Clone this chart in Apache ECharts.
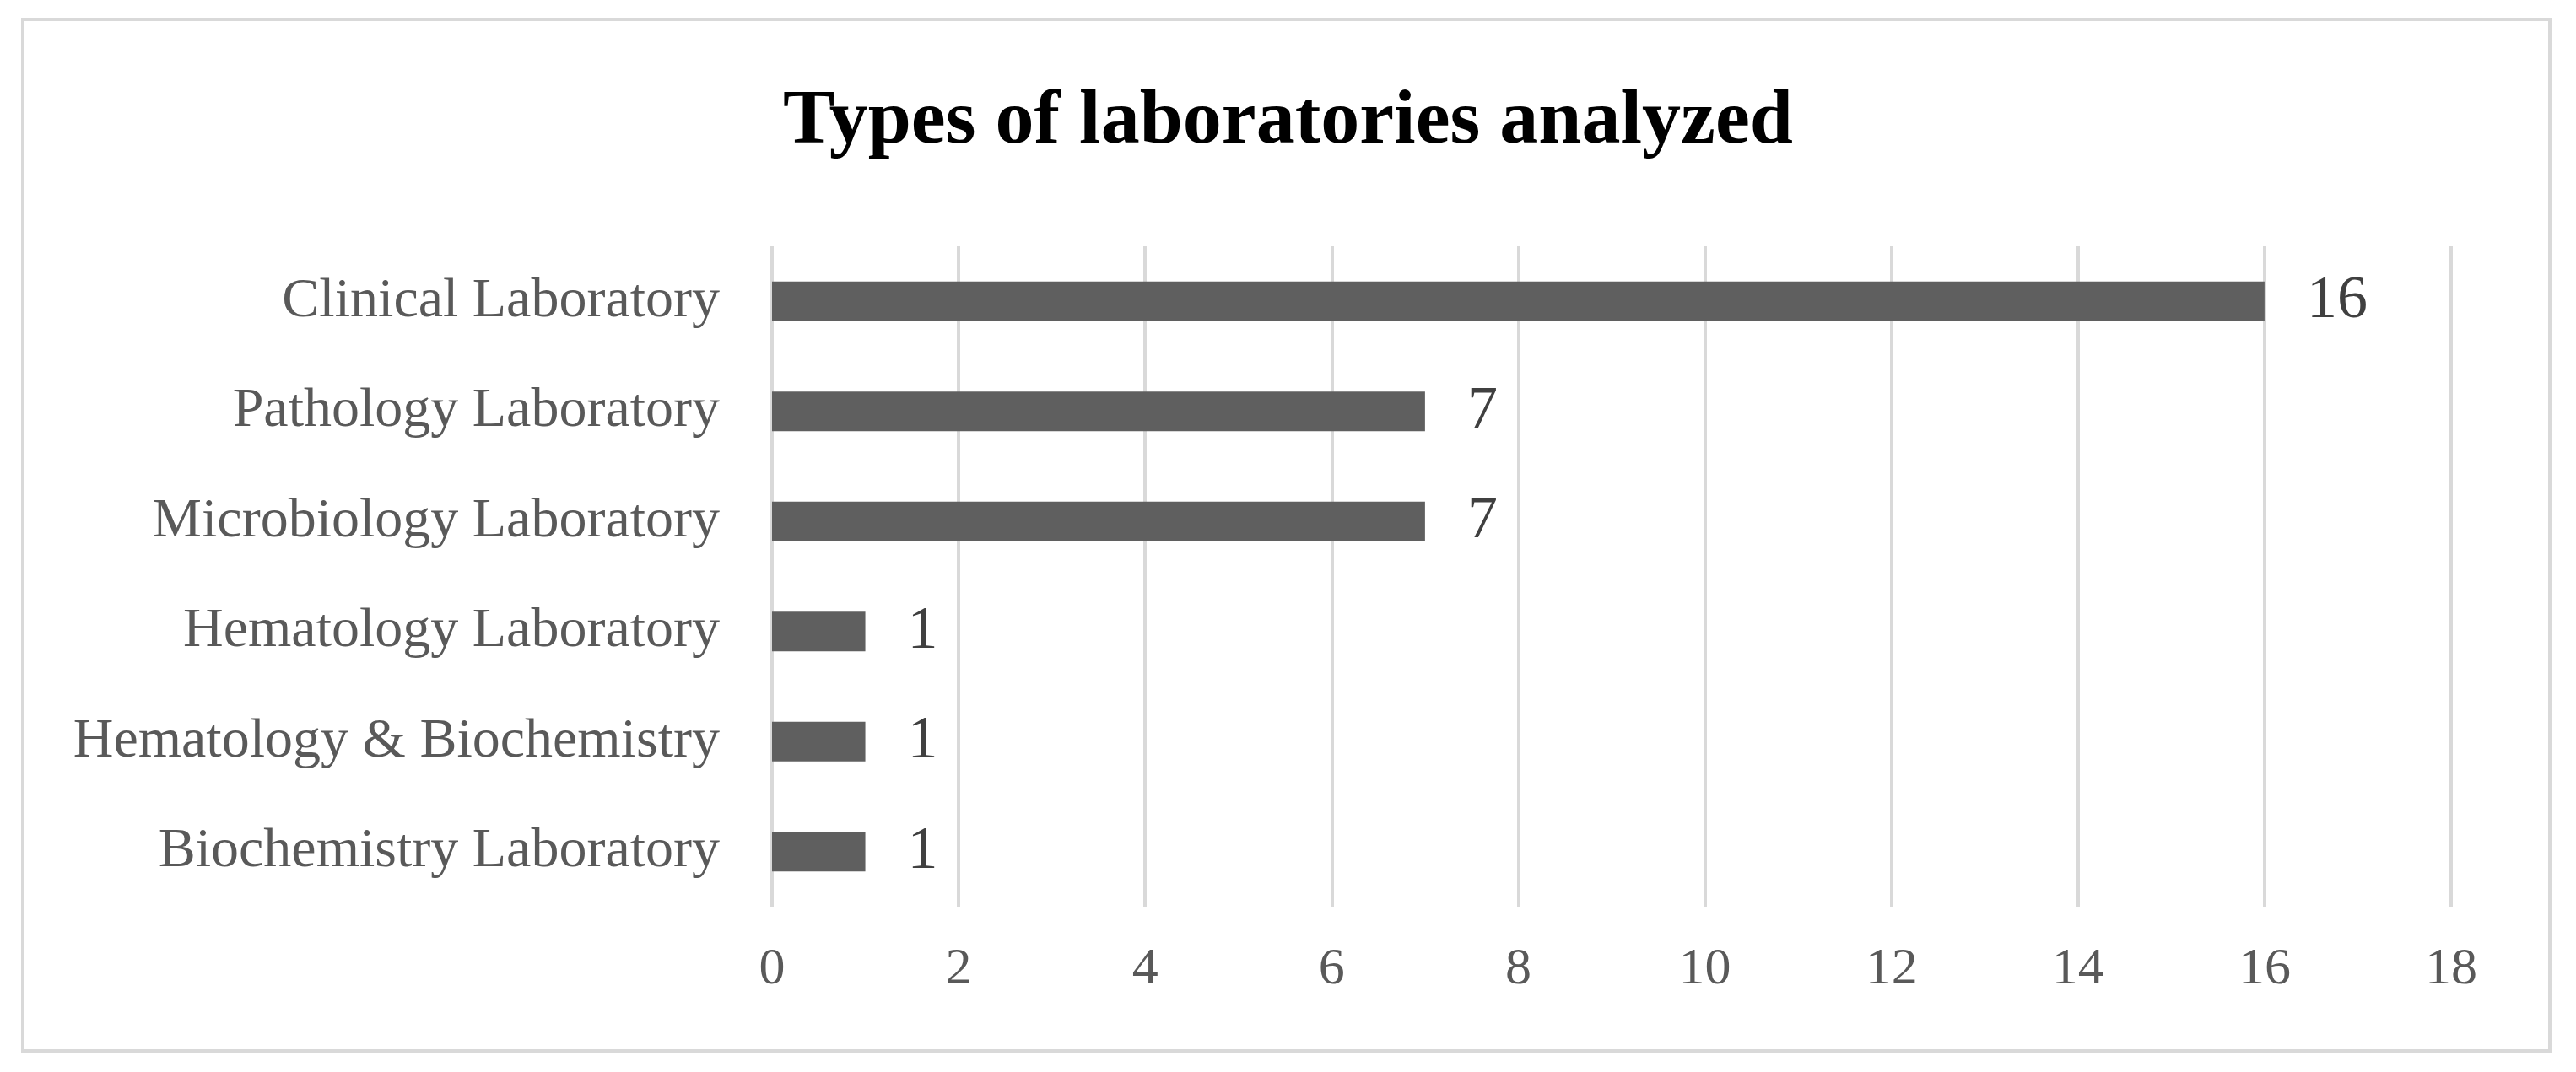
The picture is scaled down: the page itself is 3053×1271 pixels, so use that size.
<!DOCTYPE html><html><head><meta charset="utf-8"><style>html,body{margin:0;background:#fff}#c{width:3053px;height:1271px}</style>
<script src="https://cdn.jsdelivr.net/npm/echarts@6/dist/echarts.min.js"></script></head><body><div id="c"></div><script>
const categories=["Biochemistry Laboratory","Hematology & Biochemistry","Hematology Laboratory","Microbiology Laboratory","Pathology Laboratory","Clinical Laboratory"];
const values=[1,1,1,7,7,16];
const xTicks=[0,2,4,6,8,10,12,14,16,18];
const F='"Liberation Serif","Times New Roman",serif';
const ch=echarts.init(document.getElementById('c'));
ch.setOption({
 animation:false,
 graphic:[{type:'rect',shape:{x:27,y:23,width:2995,height:1223},style:{fill:'none',stroke:'#d9d9d9',lineWidth:4}}],
 title:{text:'Types of laboratories analyzed',left:'center',top:94,textStyle:{fontFamily:F,fontSize:92,fontWeight:'bold',color:'#000'}},
 grid:{left:915,right:148,top:292,bottom:196},
 xAxis:{type:'value',min:0,max:18,interval:2,axisLine:{show:false},axisTick:{show:false},
  splitLine:{lineStyle:{color:'#d9d9d9',width:4}},
  axisLabel:{fontFamily:F,fontSize:62,color:'#595959',margin:44,formatter:v=>xTicks.includes(v)?String(v):''}},
 yAxis:{type:'category',data:categories,axisLine:{show:false},axisTick:{show:false},
  axisLabel:{fontFamily:F,fontSize:66,color:'#595959',margin:62}},
 series:[{type:'bar',data:values,barCategoryGap:'64%',itemStyle:{color:'#5f5f5f'},
  label:{show:true,position:'right',distance:50,fontFamily:F,fontSize:72,color:'#404040'}}]
});
</script></body></html>
